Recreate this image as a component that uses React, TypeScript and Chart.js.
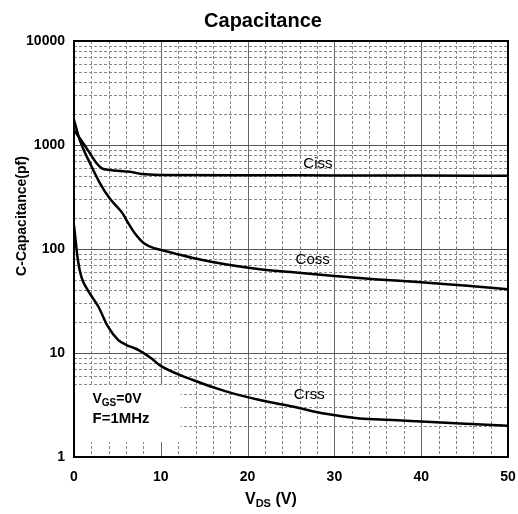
import React, { useEffect, useRef } from 'react';
import { Chart, registerables } from 'chart.js';

Chart.register(...registerables);

// ---- data ----
const cissV = [0, 1.07, 1.84, 2.6, 3.2, 4.1, 6.5, 7.8, 10, 20, 30, 40, 50];
const cissC = [1390, 1040, 830, 667, 597, 575, 553, 525, 515, 512, 510, 508, 505];

const cossV = [0, 0.66, 1.84, 3, 4.1, 5.6, 6.2, 7, 8.1, 9.4, 10, 13.7, 17.6, 21.4, 25, 30, 35, 40, 45, 50];
const cossC = [1750, 1120, 667, 428, 307, 220, 180, 142, 113, 101, 98, 82, 71, 64, 60, 55, 51, 48, 44.5, 41];

const crssV = [0, 0.45, 0.85, 1.6, 2.8, 3.9, 5.1, 6, 7, 7.6, 8.9, 9.9, 13.7, 17.6, 21.4, 25.3, 29, 32.9, 36.7, 40.6, 44.5, 50];
const crssC = [170, 78, 54, 40, 28, 18, 13.3, 12, 11.1, 10.5, 8.9, 7.6, 5.5, 4.25, 3.53, 3.04, 2.6, 2.35, 2.27, 2.18, 2.1, 2.0];

const yDecades = [1, 10, 100, 1000, 10000];
const yMinorSteps = [2, 3, 4, 5, 6, 7, 8, 9];
const xMin = 0;
const xMax = 50;
const xTickStep = 10;
const xGridStep = 2;

const curveLabels = [
  { text: 'Ciss', x: 28.1, y: 656 },
  { text: 'Coss', x: 27.5, y: 78 },
  { text: 'Crss', x: 27.1, y: 4.0 },
];

const titleText = 'Capacitance';
const yTitleText = 'C-Capacitance(pf)';
const FONT = '"Liberation Sans", Arial, sans-serif';

const toPoints = (xs: number[], ys: number[]) => xs.map((x, i) => ({ x, y: ys[i] }));

const customPlugin = {
  id: 'customDraw',
  beforeDatasetsDraw(chart: any) {
    const { ctx, chartArea: a, scales } = chart;
    const xs = scales.x;
    const ys = scales.y;
    ctx.save();
    ctx.lineWidth = 1;
    // vertical grid
    for (let v = xMin + xGridStep; v < xMax; v += xGridStep) {
      const px = Math.round(xs.getPixelForValue(v)) + 0.5;
      const major = v % xTickStep === 0;
      ctx.strokeStyle = major ? '#666' : '#888';
      ctx.setLineDash(major ? [] : [3, 2]);
      ctx.beginPath();
      ctx.moveTo(px, a.top);
      ctx.lineTo(px, a.bottom);
      ctx.stroke();
    }
    // horizontal grid
    for (let d = 0; d < yDecades.length; d++) {
      const base = yDecades[d];
      if (d > 0 && d < yDecades.length - 1) {
        const py = Math.round(ys.getPixelForValue(base)) + 0.5;
        ctx.strokeStyle = '#555';
        ctx.setLineDash([]);
        ctx.beginPath();
        ctx.moveTo(a.left, py);
        ctx.lineTo(a.right, py);
        ctx.stroke();
      }
      if (d < yDecades.length - 1) {
        for (const m of yMinorSteps) {
          const py = Math.round(ys.getPixelForValue(base * m)) + 0.5;
          ctx.strokeStyle = '#888';
          ctx.setLineDash([3, 2]);
          ctx.beginPath();
          ctx.moveTo(a.left, py);
          ctx.lineTo(a.right, py);
          ctx.stroke();
        }
      }
    }
    ctx.setLineDash([]);
    // white note box
    const bx0 = xs.getPixelForValue(0) + 1;
    const bx1 = xs.getPixelForValue(12.3);
    const by0 = ys.getPixelForValue(4.9);
    const by1 = ys.getPixelForValue(1.39);
    ctx.fillStyle = '#fff';
    ctx.fillRect(bx0, by0, bx1 - bx0, by1 - by0);
    ctx.restore();
  },
  afterDatasetsDraw(chart: any) {
    const { ctx, chartArea: a, scales } = chart;
    const xs = scales.x;
    const ys = scales.y;
    ctx.save();
    // frame
    ctx.strokeStyle = '#000';
    ctx.lineWidth = 2;
    ctx.strokeRect(a.left, a.top, a.right - a.left, a.bottom - a.top);
    // curve labels
    ctx.fillStyle = '#000';
    ctx.font = `15px ${FONT}`;
    ctx.textAlign = 'center';
    ctx.textBaseline = 'middle';
    for (const l of curveLabels) {
      ctx.fillText(l.text, xs.getPixelForValue(l.x), ys.getPixelForValue(l.y));
    }
    // note text
    ctx.textAlign = 'left';
    ctx.textBaseline = 'alphabetic';
    let tx = 92.5;
    ctx.font = `bold 14px ${FONT}`;
    ctx.fillText('V', tx, 403);
    tx += ctx.measureText('V').width;
    ctx.font = `bold 10px ${FONT}`;
    ctx.fillText('GS', tx, 406);
    tx += ctx.measureText('GS').width;
    ctx.font = `bold 14px ${FONT}`;
    ctx.fillText('=0V', tx, 403);
    ctx.font = `bold 15px ${FONT}`;
    ctx.fillText('F=1MHz', 92.5, 423);
    ctx.restore();
  },
  afterDraw(chart: any) {
    const { ctx } = chart;
    ctx.save();
    ctx.fillStyle = '#000';
    // title
    ctx.font = `bold 20px ${FONT}`;
    ctx.textAlign = 'center';
    ctx.textBaseline = 'alphabetic';
    ctx.fillText(titleText, 263, 27);
    // y title
    ctx.save();
    ctx.translate(22, 216);
    ctx.rotate(-Math.PI / 2);
    ctx.font = `bold 14px ${FONT}`;
    ctx.textBaseline = 'middle';
    ctx.fillText(yTitleText, 0, 0);
    ctx.restore();
    // x title: V_DS (V)
    ctx.textAlign = 'left';
    let tx = 245;
    ctx.font = `bold 16px ${FONT}`;
    ctx.fillText('V', tx, 504);
    tx += ctx.measureText('V').width;
    ctx.font = `bold 11px ${FONT}`;
    ctx.fillText('DS', tx, 507);
    tx += ctx.measureText('DS').width;
    ctx.font = `bold 16px ${FONT}`;
    ctx.fillText(' (V)', tx, 504);
    ctx.restore();
  },
};

export default function App() {
  const ref = useRef<HTMLCanvasElement | null>(null);
  useEffect(() => {
    if (!ref.current) return;
    const line = (data: { x: number; y: number }[]) => ({
      data,
      borderColor: '#000',
      borderWidth: 2.5,
      pointRadius: 0,
      fill: false,
      cubicInterpolationMode: 'monotone' as const,
    });
    const chart = new Chart(ref.current, {
      type: 'line',
      data: {
        datasets: [
          { label: 'Ciss', ...line(toPoints(cissV, cissC)) },
          { label: 'Coss', ...line(toPoints(cossV, cossC)) },
          { label: 'Crss', ...line(toPoints(crssV, crssC)) },
        ],
      },
      options: {
        responsive: false,
        animation: false,
        events: [],
        layout: { padding: { top: 41, right: 10, left: 0, bottom: 0 } },
        plugins: { legend: { display: false }, tooltip: { enabled: false }, title: { display: false } },
        scales: {
          x: {
            type: 'linear',
            min: xMin,
            max: xMax,
            grid: { display: false, drawTicks: false },
            border: { display: false },
            ticks: {
              stepSize: xTickStep,
              padding: 12,
              color: '#000',
              font: { family: FONT, size: 14, weight: 'bold' },
              maxRotation: 0,
            },
            afterFit: (s: any) => { s.height = 57; s.paddingLeft = 0; s.paddingRight = 0; },
          },
          y: {
            type: 'logarithmic',
            min: yDecades[0],
            max: yDecades[yDecades.length - 1],
            grid: { display: false, drawTicks: false },
            border: { display: false },
            afterBuildTicks: (s: any) => { s.ticks = yDecades.map((v) => ({ value: v })); },
            ticks: {
              autoSkip: false,
              padding: 9,
              color: '#000',
              font: { family: FONT, size: 14, weight: 'bold' },
              callback: (v: any) => String(v),
            },
            afterFit: (s: any) => { s.width = 74; s.paddingTop = 0; s.paddingBottom = 0; },
          },
        },
      },
      plugins: [customPlugin],
    } as any);
    return () => chart.destroy();
  }, []);
  return (
    <div style={{ position: 'fixed', left: 0, top: 0, width: 518, height: 514, background: '#fff' }}>
      <canvas ref={ref} width={518} height={514} style={{ display: 'block' }} />
    </div>
  );
}
